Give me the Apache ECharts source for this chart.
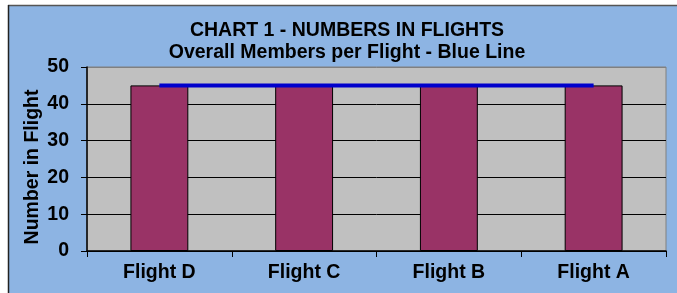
<!DOCTYPE html>
<html>
<head>
<meta charset="utf-8">
<script src="https://cdn.jsdelivr.net/npm/echarts@6/dist/echarts.min.js"></script>
<style>
  html, body { margin: 0; padding: 0; background: #ffffff; }
  #chart-container { width: 677px; height: 293px; }
</style>
</head>
<body>
<div id="chart-container"></div>
<script>
var dom = document.getElementById("chart-container");
var myChart = echarts.init(dom, null, { renderer: "canvas" });

var chart_title = "CHART 1 - NUMBERS IN FLIGHTS\nOverall Members per Flight - Blue Line";
var categories = ["Flight D", "Flight C", "Flight B", "Flight A"];
var members = [45, 45, 45, 45];
var overall = [45, 45, 45, 45];
var yTicks = [0, 10, 20, 30, 40, 50];

var font = "Liberation Sans, Arial, sans-serif";
var fs = 19.5;

var option = {
  backgroundColor: "#ffffff",
  animation: false,
  graphic: [
    {
      type: "rect",
      shape: { x: 8, y: 5, width: 669, height: 288 },
      style: { fill: "#8db4e3" },
      z: -10,
    },
    {
      type: "line",
      shape: { x1: 8, y1: 5.5, x2: 677, y2: 5.5 },
      style: { stroke: "#555555", lineWidth: 1.5 },
      z: -9,
    },
    {
      type: "line",
      shape: { x1: 8.5, y1: 5, x2: 8.5, y2: 293 },
      style: { stroke: "#222222", lineWidth: 1.5 },
      z: -9,
    },
  ],
  title: {
    text: chart_title,
    left: 342,
    textAlign: "center",
    top: 14,
    textStyle: {
      fontFamily: font,
      fontSize: fs,
      fontWeight: "bold",
      color: "#000",
      lineHeight: 22.5,
    },
  },
  grid: {
    left: 87,
    right: 11,
    top: 67,
    bottom: 42,
    show: true,
    backgroundColor: "#c0c0c0",
    borderColor: "#808080",
    borderWidth: 1,
  },
  xAxis: {
    type: "category",
    data: categories,
    axisLine: { lineStyle: { color: "#000", width: 1.5 } },
    axisTick: { show: true, length: 6, lineStyle: { color: "#000" } },
    axisLabel: {
      fontFamily: font,
      fontSize: fs,
      fontWeight: "bold",
      color: "#000",
      margin: 12,
    },
  },
  yAxis: {
    type: "value",
    min: yTicks[0],
    max: yTicks[yTicks.length - 1],
    interval: 10,
    name: "Number in Flight",
    nameLocation: "middle",
    nameGap: 44,
    nameMoveOverlap: false,
    nameTextStyle: {
      fontFamily: font,
      fontSize: fs,
      fontWeight: "bold",
      color: "#000",
      padding: [0, 16, 0, 0],
    },
    axisLine: { show: true, lineStyle: { color: "#000", width: 1.5 } },
    axisTick: { show: true, length: 6, lineStyle: { color: "#000" } },
    axisLabel: {
      fontFamily: font,
      fontSize: fs,
      fontWeight: "bold",
      color: "#000",
      margin: 18,
    },
    splitLine: {
      show: true,
      lineStyle: {
        color: ["#000", "#000", "#000", "#000", "#000", "#808080"],
        width: 1,
      },
    },
  },
  series: [
    {
      name: "Members",
      type: "bar",
      data: members,
      barWidth: "40%",
      itemStyle: { color: "#993366", borderColor: "#000", borderWidth: 1 },
      z: 2,
    },
    {
      name: "Overall",
      type: "line",
      data: overall,
      symbol: "none",
      lineStyle: { color: "#0000cc", width: 4 },
      z: 3,
    },
  ],
};

myChart.setOption(option);

window.addEventListener("resize", function () {
  myChart.resize();
});
</script>
</body>
</html>
